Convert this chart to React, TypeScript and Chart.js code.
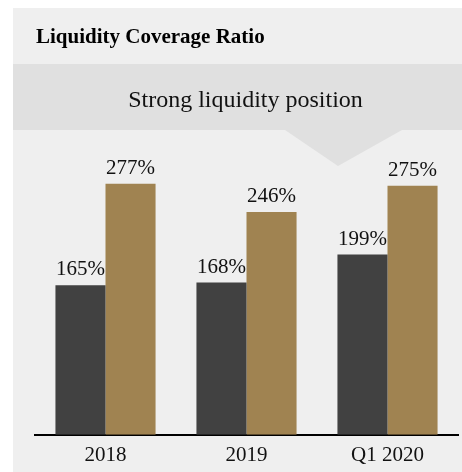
import React, { useEffect, useRef } from "react";
import { Chart, registerables } from "chart.js";

Chart.register(...registerables);

const categories = ["2018", "2019", "Q1 2020"];
const seriesDark = [165, 168, 199];
const seriesGold = [277, 246, 275];
const titleText = "Liquidity Coverage Ratio";
const bannerText = "Strong liquidity position";

const SERIF = "'Liberation Serif', 'Times New Roman', serif";

const panelPlugin = {
  id: "panel",
  beforeDraw(chart: any) {
    const ctx = chart.ctx;
    ctx.save();
    ctx.fillStyle = "#ffffff";
    ctx.fillRect(0, 0, chart.width, chart.height);
    ctx.fillStyle = "#efefef";
    ctx.fillRect(13, 8, chart.width - 13, chart.height - 8);
    ctx.fillStyle = "#e0e0e0";
    ctx.fillRect(13, 64, chart.width - 13, 66);
    ctx.beginPath();
    ctx.moveTo(285, 130);
    ctx.lineTo(402, 130);
    ctx.lineTo(338, 166);
    ctx.closePath();
    ctx.fill();
    ctx.fillStyle = "#000000";
    ctx.textBaseline = "alphabetic";
    ctx.textAlign = "left";
    ctx.font = `bold 21px ${SERIF}`;
    ctx.fillText(titleText, 36, 43);
    ctx.font = `24px ${SERIF}`;
    ctx.textAlign = "center";
    ctx.fillStyle = "#111111";
    ctx.fillText(bannerText, 245.5, 107);
    ctx.restore();
  },
};

const valueLabelPlugin = {
  id: "valueLabels",
  afterDatasetsDraw(chart: any) {
    const ctx = chart.ctx;
    ctx.save();
    ctx.font = `21px ${SERIF}`;
    ctx.fillStyle = "#111111";
    ctx.textAlign = "center";
    ctx.textBaseline = "alphabetic";
    chart.data.datasets.forEach((ds: any, di: number) => {
      const meta = chart.getDatasetMeta(di);
      meta.data.forEach((bar: any, i: number) => {
        ctx.fillText(`${ds.data[i]}%`, bar.x, bar.y - 10);
      });
    });
    ctx.restore();
  },
};

export default function App() {
  const ref = useRef<HTMLCanvasElement | null>(null);
  useEffect(() => {
    document.body.style.margin = "0";
    const chart = new Chart(ref.current as HTMLCanvasElement, {
      type: "bar",
      data: {
        labels: categories,
        datasets: [
          {
            data: seriesDark,
            backgroundColor: "#414141",
            borderWidth: 0,
            categoryPercentage: 0.71,
            barPercentage: 1,
          },
          {
            data: seriesGold,
            backgroundColor: "#a08351",
            borderWidth: 0,
            categoryPercentage: 0.71,
            barPercentage: 1,
          },
        ],
      },
      options: {
        animation: false,
        responsive: false,
        maintainAspectRatio: false,
        layout: { padding: { left: 35, right: 4, top: 163, bottom: -4 } },
        plugins: {
          legend: { display: false },
          tooltip: { enabled: false },
          title: { display: false },
        },
        scales: {
          x: {
            grid: { display: false, drawTicks: false },
            border: { display: true, color: "#000000", width: 2 },
            ticks: {
              color: "#111111",
              font: { family: SERIF, size: 21 },
              padding: 8,
            },
          },
          y: {
            display: false,
            min: 0,
            max: 300,
          },
        },
      },
      plugins: [panelPlugin, valueLabelPlugin],
    });
    return () => chart.destroy();
  }, []);
  return <canvas ref={ref} width={462} height={472} style={{ display: "block" }} />;
}
